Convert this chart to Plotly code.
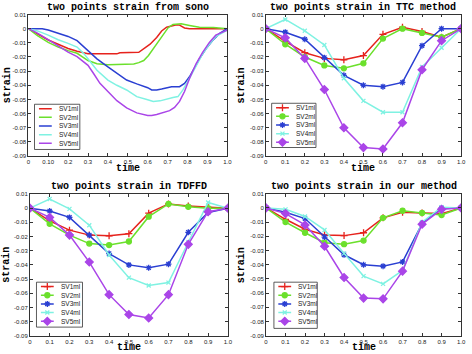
import plotly.graph_objects as go

W, H = 472, 354

# ---------------- data ----------------
names = ["SV1ml", "SV2ml", "SV3ml", "SV4ml", "SV5ml"]

# sono (dense tracked curves)
sono_t1 = [0, 0.03, 0.063, 0.1, 0.15, 0.2, 0.245, 0.3, 0.445, 0.46, 0.555, 0.58, 0.612, 0.645, 0.67, 0.695, 0.72, 0.745, 0.76, 0.785, 0.81, 1.0]
sono_v1 = [0, -0.0023, -0.005, -0.008, -0.011, -0.014, -0.016, -0.0178, -0.0178, -0.017, -0.0167, -0.0143, -0.011, -0.0062, -0.0016, 0.001, 0.002, 0.0027, 0.0025, 0.0005, 0.0, 0.0]

sono_t2 = [0, 0.046, 0.1, 0.15, 0.2, 0.245, 0.3, 0.345, 0.4, 0.53, 0.555, 0.58, 0.604, 0.628, 0.653, 0.678, 0.703, 0.727, 0.768, 0.81, 0.86, 0.93, 1.0]
sono_v2 = [0, -0.005, -0.0097, -0.013, -0.0155, -0.0174, -0.0225, -0.0248, -0.0255, -0.025, -0.024, -0.0225, -0.019, -0.0143, -0.0097, -0.004, 0.0007, 0.003, 0.0035, 0.0023, 0.001, 0.0008, 0.0]

sono_t3 = [0, 0.07, 0.1, 0.15, 0.2, 0.245, 0.28, 0.3, 0.345, 0.4, 0.445, 0.494, 0.545, 0.6, 0.62, 0.645, 0.67, 0.695, 0.72, 0.76, 0.785, 0.81, 0.834, 0.86, 0.893, 0.925, 0.96, 1.0]
sono_v3 = [0, 0, -0.001, -0.003, -0.0055, -0.0085, -0.013, -0.0155, -0.0213, -0.027, -0.0317, -0.0363, -0.039, -0.0417, -0.0433, -0.0433, -0.0426, -0.042, -0.041, -0.041, -0.0387, -0.034, -0.028, -0.0213, -0.0143, -0.0086, -0.0035, 0.0]

sono_t4 = [0, 0.046, 0.1, 0.15, 0.2, 0.245, 0.28, 0.3, 0.345, 0.4, 0.445, 0.494, 0.545, 0.6, 0.628, 0.662, 0.695, 0.727, 0.752, 0.777, 0.81, 0.843, 0.876, 0.91, 0.942, 1.0]
sono_v4 = [0, -0.0016, -0.0046, -0.0078, -0.0104, -0.013, -0.0178, -0.0213, -0.0294, -0.0363, -0.04, -0.0433, -0.048, -0.0502, -0.0514, -0.051, -0.0495, -0.0486, -0.048, -0.0433, -0.0352, -0.026, -0.0178, -0.011, -0.0056, -0.001]

sono_t5 = [0, 0.046, 0.1, 0.15, 0.2, 0.245, 0.3, 0.328, 0.36, 0.4, 0.445, 0.494, 0.545, 0.6, 0.62, 0.645, 0.678, 0.71, 0.735, 0.76, 0.785, 0.81, 0.843, 0.876, 0.91, 0.942, 1.0]
sono_v5 = [0, -0.0032, -0.0078, -0.012, -0.0166, -0.0197, -0.0259, -0.0317, -0.0386, -0.0444, -0.0509, -0.056, -0.0595, -0.0613, -0.0613, -0.0606, -0.0595, -0.0579, -0.0556, -0.0514, -0.0444, -0.0352, -0.0248, -0.0167, -0.0097, -0.0046, -0.001]

# sampled methods
t_grid = [0, 0.1, 0.2, 0.3, 0.4, 0.5, 0.6, 0.7, 0.8, 0.9, 1.0]

ttc_sv1 = [0, -0.009, -0.017, -0.021, -0.022, -0.019, -0.004, 0.001, -0.002, -0.006, 0]
ttc_sv2 = [0, -0.011, -0.020, -0.026, -0.028, -0.0245, -0.007, 0.0, -0.003, -0.006, 0]
ttc_sv3 = [0, -0.0025, -0.0075, -0.0205, -0.033, -0.040, -0.041, -0.038, -0.012, 0.0, 0]
ttc_sv4 = [0, 0.0065, -0.0015, -0.0115, -0.035, -0.051, -0.059, -0.059, -0.027, -0.0135, 0]
ttc_sv5 = [0, -0.0065, -0.021, -0.043, -0.070, -0.084, -0.085, -0.0665, -0.029, -0.0085, 0]

tdffd_sv1 = [0, -0.009, -0.0155, -0.019, -0.0195, -0.018, -0.0035, 0.003, 0.0015, 0.0005, 0]
tdffd_sv2 = [0, -0.011, -0.019, -0.025, -0.026, -0.0235, -0.006, 0.003, 0.001, 0.0, 0]
tdffd_sv3 = [0, -0.002, -0.0065, -0.019, -0.032, -0.040, -0.042, -0.0395, -0.017, -0.003, 0]
tdffd_sv4 = [0, 0.0065, -0.0005, -0.012, -0.033, -0.049, -0.0545, -0.0525, -0.024, 0.004, 0]
tdffd_sv5 = [0, -0.0065, -0.019, -0.038, -0.061, -0.075, -0.0775, -0.061, -0.0255, -0.0025, 0]

ours_sv1 = [0, -0.008, -0.015, -0.019, -0.0195, -0.0175, -0.007, -0.003, -0.0035, -0.004, 0]
ours_sv2 = [0, -0.010, -0.0175, -0.0245, -0.0255, -0.023, -0.007, -0.002, -0.0035, -0.005, 0]
ours_sv3 = [0, -0.003, -0.0075, -0.0205, -0.033, -0.040, -0.041, -0.038, -0.011, 0.0, 0]
ours_sv4 = [0, -0.001, -0.006, -0.0155, -0.032, -0.048, -0.0535, -0.044, -0.010, 0.0005, 0]
ours_sv5 = [0, -0.004, -0.012, -0.027, -0.049, -0.0635, -0.064, -0.0445, -0.0115, -0.001, 0]

titles = ["two points strain from sono", "two points strain in TTC method",
          "two points strain in TDFFD", "two points strain in our method"]
x_label = "time"
y_label = "strain"

x_tickvals = [0, 0.1, 0.2, 0.3, 0.4, 0.5, 0.6, 0.7, 0.8, 0.9, 1.0]
x_ticktext_sono = ["0", "0.10", "0.2", "0.3", "0.4", "0.5", "0.6", "0.7", "0.8", "0.9", "1.0"]
x_ticktext = ["0", "0.1", "0.2", "0.3", "0.4", "0.5", "0.6", "0.7", "0.8", "0.9", "1.0"]
y_tickvals = [0.01, 0, -0.01, -0.02, -0.03, -0.04, -0.05, -0.06, -0.07, -0.08, -0.09]
y_ticktext = ["0.01", "0", "-0.01", "-0.02", "-0.03", "-0.04", "-0.05", "-0.06", "-0.07", "-0.08", "-0.09"]

# ---------------- style ----------------
colors = ["#e6231d", "#6be02c", "#2a3fd2", "#7ff2e2", "#aa45e8"]
symbols = ["cross-thin-open", "circle", "asterisk-open", "x-thin-open", "diamond"]
msizes = [5, 5, 5, 4, 6]
Y0, Y1 = -0.09, 0.01

# axes pixel boxes (left, right, top, bottom)
panels = [(26.7, 228.7, 11.7, 155.7), (267.7, 466.0, 11.7, 155.7),
          (28.3, 229.3, 194.3, 338.5), (268.0, 466.0, 194.0, 338.5)]
# legend pixel boxes (left, top, right, bottom)
legboxes = [(33.0, 103.0, 79.0, 149.0), (273.7, 102.0, 318.7, 147.0),
            (35.0, 284.0, 81.7, 329.7), (276.0, 284.0, 320.0, 331.0)]
title_y = [5.0, 5.0, 186.5, 186.5]
xlab_y = [168.8, 168.8, 350.0, 350.0]
ylab_x = [5.0, 242.7, 5.0, 243.0]

def px(x):
    return x / W

def py(y):
    return 1 - y / H

def to_data(i, x, y):
    l, r, t, b = panels[i]
    return (x - l) / (r - l), Y1 - (y - t) / (b - t) * (Y1 - Y0)

fig = go.Figure()

sono_t = [sono_t1, sono_t2, sono_t3, sono_t4, sono_t5]
sono_v = [sono_v1, sono_v2, sono_v3, sono_v4, sono_v5]
methods = [[ttc_sv1, ttc_sv2, ttc_sv3, ttc_sv4, ttc_sv5],
           [tdffd_sv1, tdffd_sv2, tdffd_sv3, tdffd_sv4, tdffd_sv5],
           [ours_sv1, ours_sv2, ours_sv3, ours_sv4, ours_sv5]]

def axn(i):
    return "" if i == 0 else str(i + 1)

for k in range(5):
    fig.add_trace(go.Scatter(x=sono_t[k], y=sono_v[k], mode="lines",
                             line=dict(color=colors[k], width=1.5),
                             xaxis="x", yaxis="y", showlegend=False))

for m, data in enumerate(methods):
    i = m + 1
    for k in range(5):
        fig.add_trace(go.Scatter(
            x=t_grid, y=data[k], mode="lines+markers",
            line=dict(color=colors[k], width=1.5),
            marker=dict(color=colors[k], symbol=symbols[k], size=msizes[k],
                        line=dict(color=colors[k], width=1.3)),
            xaxis="x" + axn(i), yaxis="y" + axn(i), showlegend=False))

shapes = []
annotations = []
for i in range(4):
    l, r, t, b = panels[i]
    fig.update_layout(**{
        "xaxis" + axn(i): dict(domain=[px(l), px(r)], anchor="y" + axn(i), range=[0, 1],
                               tickvals=x_tickvals, ticktext=(x_ticktext_sono if i == 0 else x_ticktext),
                               ticks="inside", ticklen=3, tickwidth=0.8, tickcolor="#333",
                               mirror="allticks", showline=True, linecolor="#333", linewidth=0.8,
                               showgrid=False, zeroline=False, ticklabelstandoff=0,
                               tickfont=dict(family="Liberation Sans", size=6, color="#222")),
        "yaxis" + axn(i): dict(domain=[py(b), py(t)], anchor="x" + axn(i), range=[Y0, Y1],
                               tickvals=y_tickvals, ticktext=y_ticktext,
                               ticks="inside", ticklen=3, tickwidth=0.8, tickcolor="#333",
                               mirror="allticks", showline=True, linecolor="#333", linewidth=0.8,
                               showgrid=False, zeroline=False, ticklabelstandoff=0,
                               tickfont=dict(family="Liberation Sans", size=6, color="#222")),
    })
    cx = (l + r) / 2
    annotations.append(dict(text=titles[i], x=px(cx), y=py(title_y[i]), xref="paper", yref="paper",
                            showarrow=False, xanchor="center", yanchor="middle",
                            font=dict(family="Liberation Mono", size=10, color="#000", weight="bold")))
    annotations.append(dict(text=x_label, x=px(cx), y=py(xlab_y[i]), xref="paper", yref="paper",
                            showarrow=False, xanchor="center", yanchor="middle",
                            font=dict(family="Liberation Mono", size=10, color="#000", weight="bold")))
    annotations.append(dict(text=y_label, x=px(ylab_x[i]), y=py((t + b) / 2), xref="paper", yref="paper",
                            showarrow=False, xanchor="center", yanchor="middle", textangle=-90,
                            font=dict(family="Liberation Mono", size=10, color="#000", weight="bold")))
    # legend
    bl, bt, br, bb = legboxes[i]
    shapes.append(dict(type="rect", xref="paper", yref="paper", x0=px(bl), x1=px(br),
                       y0=py(bb), y1=py(bt), fillcolor="white", line=dict(color="#333", width=0.8),
                       layer="below"))
    for k in range(5):
        ry = bt + 4.5 + k * 8.8
        xa, ya = to_data(i, bl + 4.5, ry)
        xb, _ = to_data(i, bl + 17.5, ry)
        xm, _ = to_data(i, bl + 11.0, ry)
        fig.add_trace(go.Scatter(x=[xa, xb], y=[ya, ya], mode="lines",
                                 line=dict(color=colors[k], width=1.5),
                                 xaxis="x" + axn(i), yaxis="y" + axn(i), showlegend=False,
                                 hoverinfo="skip"))
        if i > 0:
            fig.add_trace(go.Scatter(x=[xm], y=[ya], mode="markers",
                                     marker=dict(color=colors[k], symbol=symbols[k], size=msizes[k],
                                                 line=dict(color=colors[k], width=1.3)),
                                     xaxis="x" + axn(i), yaxis="y" + axn(i), showlegend=False,
                                     hoverinfo="skip"))
        annotations.append(dict(text=names[k], x=px(bl + 22.5), y=py(ry), xref="paper", yref="paper",
                                showarrow=False, xanchor="left", yanchor="middle",
                                font=dict(family="Liberation Sans", size=6.5, color="#222")))

fig.update_layout(width=W, height=H, margin=dict(l=0, r=0, t=0, b=0),
                  paper_bgcolor="white", plot_bgcolor="white",
                  shapes=shapes, annotations=annotations, showlegend=False)

fig.write_html("out.html", config={"displayModeBar": False},
               post_script="document.body.style.margin='0';document.body.style.padding='0';")
